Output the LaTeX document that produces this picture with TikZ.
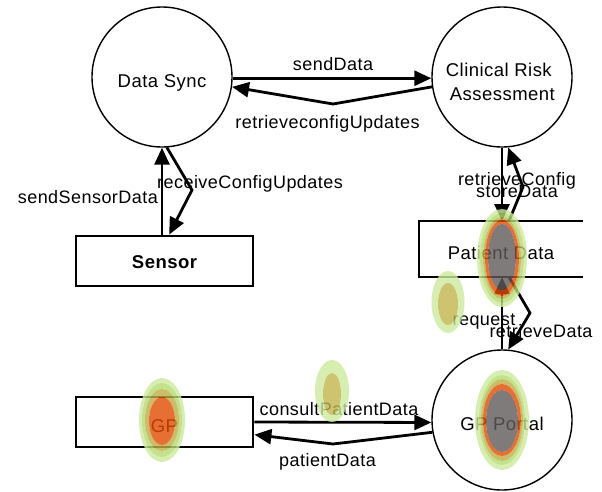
\documentclass[tikz,border=0pt]{standalone}
\usepackage{fontspec}
\setmainfont{Liberation Sans}[LetterSpace=2.5]
\usetikzlibrary{arrows.meta}
\definecolor{hgA}{RGB}{204,234,156}
\definecolor{hgB}{RGB}{181,219,114}
\definecolor{htan}{RGB}{192,174,68}
\definecolor{hor}{RGB}{226,76,0}
\definecolor{hgr}{RGB}{96,91,91}
\definecolor{holive}{RGB}{194,181,76}
\tikzset{
  proc/.style={circle, draw, line width=1.4pt, minimum size=140pt, inner sep=0pt,
    font=\fontsize{18.5}{22}\selectfont, text height=20pt, text depth=0pt},
  extent/.style={rectangle, draw, line width=2.8pt, minimum width=177pt, minimum height=50pt,
    inner sep=0pt, font=\fontsize{18.5}{22}\selectfont},
  storebox/.style={rectangle, minimum width=164pt, minimum height=56pt, inner sep=0pt, outer sep=0pt,
    font=\fontsize{18.5}{22}\selectfont, text height=20pt, text depth=0pt},
  storeline/.style={line width=2.8pt},
  flow/.style={line width=2.8pt, -{Triangle[length=17pt,width=15pt]}},
  lbl/.style={inner sep=0pt, font=\fontsize{18}{21}\selectfont},
  heat/.style={fill opacity=0.8, even odd rule}
}
\begin{document}
\begin{tikzpicture}[x=1pt,y=-1pt]
\fill[white] (0,0) rectangle (602,491);
\useasboundingbox (0,0) rectangle (602,491);

% processes
\node[proc] (ds) at (162,77) {Data Sync};
\node[proc] (cra) at (502,77) {};
\node[inner sep=0pt, align=left, font=\fontsize{18.5}{24}\selectfont] (cratxt) at (500.4,81.5)
  {Clinical Risk\\\hspace*{4pt}Assessment};
\node[proc] (gpp) at (502,420) {GP Portal};

% external entities
\node[extent, text height=14pt, text depth=0pt] (sensor) at (164.5,261) {\bfseries Sensor};
\node[extent, text height=20pt, text depth=0pt] (gp) at (164.5,422) {GP};

% data store
\node[storebox] (pd) at (501,249) {Patient Data};
\draw[storeline] (pd.north east) -- (pd.north west) -- (pd.south west) -- (pd.south east);

% labels
\node[lbl, anchor=base] (lsend) at (333,70.5) {sendData};
\node[lbl, anchor=base] (lretr) at (327.5,128) {retrieveconfigUpdates};
\node[lbl, anchor=base east] (lsss) at (158,203) {sendSensorData};
\node[lbl, anchor=base west] (lrcu) at (157,188) {receiveConfigUpdates};
\node[lbl, anchor=base] (lrc) at (517,185) {retrieveConfig};
\node[lbl, anchor=base] (lsd) at (517,197) {storeData};
\node[lbl, anchor=base] (lreq) at (484,325) {request};
\node[lbl, anchor=base] (lrd) at (541,337) {retrieveData};
\node[lbl, anchor=base] (lcpd) at (339,415) {consultPatientData};
\node[lbl, anchor=base] (lpd) at (327.5,466) {patientData};

% bend points
\coordinate (bA) at (333,104);
\coordinate (bB) at (192,190);
\coordinate (bC) at (523,187);
\coordinate (bD) at (530,313);
\coordinate (bE) at (333,444);
\coordinate (pdtr) at ([xshift=8pt]pd.north);
\coordinate (pdbr) at ([xshift=8pt]pd.south);

% flows
\draw[flow] (ds.-1) -- (cra.181);
\draw[flow] (cra.188) -- (bA) -- (ds.-8);
\draw[flow] (sensor.north -| ds.south) -- (ds.south);
\draw[flow] (ds.-86) -- (bB) -- (sensor.80);
\draw[flow] (cra.south) -- (pd.north -| cra.south);
\draw[flow] (pdtr) -- (bC) -- (cra.-85);
\draw[flow] (gpp.north) -- (pd.south -| gpp.north);
\draw[flow] (pdbr) -- (bD) -- (gpp.85);
\draw[flow] (gp.east) -- (gpp.182);
\draw[flow] (gpp.190) -- (bE) -- (gp.-8.4);

% heat overlay: Patient Data
\fill[hgA, heat] (502,258) ellipse (25 and 49) (502,258) ellipse (22 and 45);
\fill[hgB, heat] (502,258) ellipse (22 and 45) (502,258) ellipse (19 and 41);
\fill[htan, heat] (502,258) ellipse (19 and 41) (502,258) ellipse (17 and 38);
\fill[hor, heat] (502,258) ellipse (17 and 38) (502,257) ellipse (14 and 33);
\fill[hgr, heat] (502,257) ellipse (14 and 33);
% heat overlay: small left of request
\fill[hgA, heat] (448,302) ellipse (16.5 and 31) (448,304) ellipse (10 and 21);
\fill[holive, heat] (448,304) ellipse (10 and 21);
% heat overlay: consultPatientData
\fill[hgA, heat] (332,391) ellipse (17 and 31) (332,394) ellipse (9 and 21);
\fill[holive, heat] (332,394) ellipse (9 and 21);
% heat overlay: GP
\fill[hgA, heat] (162,420) ellipse (23 and 42) (162,420) ellipse (20 and 37);
\fill[hgB, heat] (162,420) ellipse (20 and 37) (162,420) ellipse (17 and 31);
\fill[htan, heat] (162,420) ellipse (17 and 31) (162,421) ellipse (13 and 24);
\fill[hor, heat] (162,421) ellipse (13 and 24);
% heat overlay: GP Portal
\fill[hgA, heat] (502,420) ellipse (27 and 50) (502,420) ellipse (23 and 45);
\fill[hgB, heat] (502,420) ellipse (23 and 45) (502,420) ellipse (21 and 41);
\fill[htan, heat] (502,420) ellipse (21 and 41) (502,420) ellipse (19 and 36);
\fill[hor, heat] (502,420) ellipse (19 and 36) (502,421) ellipse (16 and 31);
\fill[hgr, heat] (502,421) ellipse (16 and 31);
\end{tikzpicture}
\end{document}
